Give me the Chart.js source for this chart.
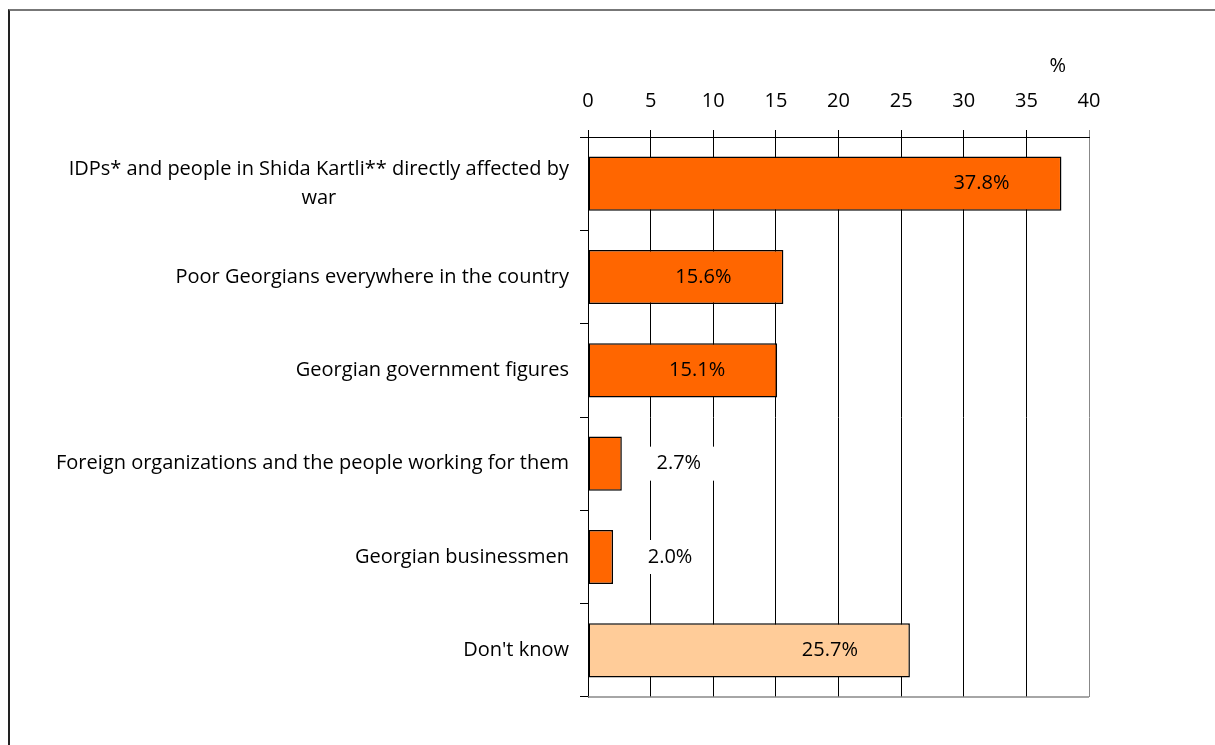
<!DOCTYPE html>
<html>
<head>
<meta charset="utf-8">
<script src="https://cdn.jsdelivr.net/npm/chart.js@4.4.1/dist/chart.umd.min.js"></script>
<style>
  html, body { margin: 0; padding: 0; background: #fff; }
  #wrap { position: relative; width: 1215px; height: 745px; overflow: hidden; }
  #frame { position: absolute; left: 8px; top: 9px; width: 1215px; height: 745px;
           border-left: 2px solid #222; border-top: 2px solid #777; }
  canvas { position: absolute; left: 0; top: 0; }
</style>
</head>
<body>
<div id="wrap">
  <div id="frame"></div>
  <canvas id="c" width="1215" height="745"></canvas>
</div>
<script>
const categories = [
  ["IDPs* and people in Shida Kartli** directly affected by", "war"],
  "Poor Georgians everywhere in the country",
  "Georgian government figures",
  "Foreign organizations and the people working for them",
  "Georgian businessmen",
  "Don't know"
];
const values = [37.8, 15.6, 15.1, 2.7, 2.0, 25.7];
const valueLabels = ["37.8%", "15.6%", "15.1%", "2.7%", "2.0%", "25.7%"];
const barColors = ["#FF6600", "#FF6600", "#FF6600", "#FF6600", "#FF6600", "#FFCC99"];
const xTicks = [0, 5, 10, 15, 20, 25, 30, 35, 40];
const unitLabel = "%";

const FONT = "'Open Sans'";
const FS = 20;

const overlay = {
  id: 'overlay',
  afterDatasetsDraw(chart) {
    const ctx = chart.ctx;
    const meta = chart.getDatasetMeta(0);
    const xs = chart.scales.x;
    const area = chart.chartArea;
    ctx.save();
    ctx.strokeStyle = '#888';
    ctx.lineWidth = 1.5;
    ctx.beginPath();
    ctx.moveTo(area.left, area.bottom);
    ctx.lineTo(area.right, area.bottom);
    ctx.stroke();
    ctx.font = FS + "px " + FONT;
    ctx.textBaseline = 'middle';
    ctx.textAlign = 'center';
    meta.data.forEach((bar, i) => {
      const len = bar.x - xs.getPixelForValue(0);
      let cx;
      if (len > 150) {
        cx = bar.x - 80;
      } else {
        cx = bar.x + 57;
        ctx.fillStyle = '#fff';
        ctx.fillRect(cx - 34, bar.y - 17, 72, 34);
      }
      ctx.fillStyle = '#000';
      ctx.fillText(valueLabels[i], cx, bar.y);
    });
    ctx.restore();
  },
  afterDraw(chart) {
    const ctx = chart.ctx;
    const ys = chart.scales.y;
    const xs = chart.scales.x;
    ctx.save();
    ctx.font = FS + "px " + FONT;
    ctx.fillStyle = '#000';
    ctx.textBaseline = 'middle';
    const rightEdge = ys.right - 19;
    categories.forEach((lab, i) => {
      const y = ys.getPixelForValue(i);
      if (Array.isArray(lab)) {
        const w = ctx.measureText(lab[0]).width;
        const mid = rightEdge - w / 2;
        ctx.textAlign = 'center';
        const lh = 29;
        lab.forEach((ln, j) => {
          ctx.fillText(ln, mid, y + (j - (lab.length - 1) / 2) * lh);
        });
      } else {
        ctx.textAlign = 'right';
        ctx.fillText(lab, rightEdge, y);
      }
    });
    ctx.textAlign = 'center';
    ctx.fillText(unitLabel, xs.getPixelForValue(37.5), 66);
    ctx.restore();
  }
};

new Chart(document.getElementById('c'), {
  type: 'bar',
  data: {
    labels: categories,
    datasets: [{
      data: values,
      backgroundColor: barColors,
      borderColor: '#000',
      borderWidth: 1.5,
      borderSkipped: false,
      barPercentage: 0.58,
      categoryPercentage: 1.0
    }]
  },
  options: {
    indexAxis: 'y',
    responsive: false,
    animation: false,
    devicePixelRatio: 1,
    layout: { padding: { left: 0, top: 0, right: 126, bottom: 48 } },
    plugins: { legend: { display: false }, tooltip: { enabled: false }, title: { display: false } },
    scales: {
      x: {
        position: 'top',
        min: 0, max: 40,
        afterBuildTicks(scale) { scale.ticks = xTicks.map(v => ({ value: v })); },
        afterFit(scale) { scale.height = 137; },
        ticks: { color: '#000', font: { family: "Open Sans", size: FS }, padding: 17 },
        grid: {
          color: (c) => (c.tick && c.tick.value === 40) ? '#888' : '#000',
          lineWidth: 1,
          tickLength: 7
        },
        border: { color: '#000', width: 1 }
      },
      y: {
        afterFit(scale) { scale.width = 588; },
        ticks: { display: false },
        grid: { drawOnChartArea: false, tickLength: 8, color: '#000', offset: true },
        border: { color: '#000', width: 1 }
      }
    }
  },
  plugins: [overlay]
});
</script>
</body>
</html>
